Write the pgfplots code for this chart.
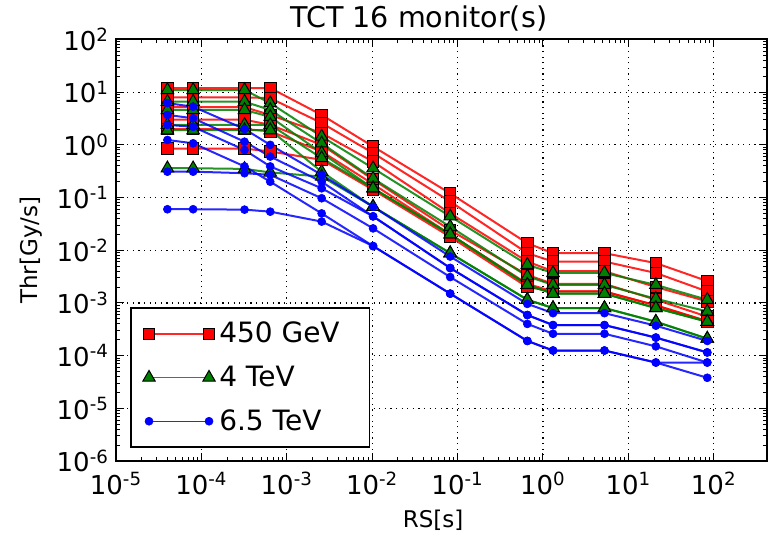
\documentclass[border=0pt]{standalone}
\usepackage{pgfplots}
\usepackage{pgfplotstable}
\pgfplotsset{compat=1.18}
\usepackage{fontspec}
\setmainfont{DejaVu Sans}

\definecolor{mplred}{RGB}{255,0,0}
\definecolor{mplgreen}{RGB}{0,128,0}
\definecolor{mplblue}{RGB}{0,0,255}

% Thresholds [Gy/s] versus running sum integration time [s]
\pgfplotstableread{
rs        a       b       c       d       e       f
4e-5      12      8       5.2     3.0     2.0     0.85
8e-5      12      8       5.2     3.0     2.0     0.85
3.2e-4    12      8       5.2     3.0     2.0     0.85
6.4e-4    12      7.7     3.7     2.4     1.8     0.75
2.56e-3   3.7     2.6     1.67    1.0     0.75    0.52
1.024e-2  0.93    0.7     0.48    0.22    0.18    0.14
8.192e-2  0.12    0.084   0.05    0.024   0.02    0.018
0.65536   0.0136  8.8e-3  6.1e-3  3.4e-3  2.3e-3  2.0e-3
1.31072   8.8e-3  6.1e-3  4.0e-3  2.3e-3  1.65e-3 1.65e-3
5.24288   8.8e-3  6.1e-3  4.0e-3  2.3e-3  1.65e-3 1.65e-3
20.97152  5.7e-3  3.7e-3  2.0e-3  1.15e-3 9.0e-4  9.0e-4
83.88608  2.6e-3  1.65e-3 1.07e-3 5.5e-4  4.5e-4  4.5e-4
}\lowE

\pgfplotstableread{
rs        a       b       c       d       e       f
4e-5      11      6.6     4.6     2.4     1.9     0.36
8e-5      11      6.6     4.6     2.4     1.9     0.36
3.2e-4    11      6.6     4.6     2.4     1.9     0.35
6.4e-4    6.2     4.6     3.4     2.4     1.9     0.30
2.56e-3   1.44    1.07    0.70    0.56    0.31    0.25
1.024e-2  0.36    0.23    0.15    0.15    0.067   0.067
8.192e-2  0.044   0.028   0.020   0.020   8.8e-3  8.8e-3
0.65536   5.3e-3  3.2e-3  2.2e-3  2.2e-3  1.15e-3 1.15e-3
1.31072   3.7e-3  2.2e-3  1.5e-3  1.5e-3  8.0e-4  8.0e-4
5.24288   3.7e-3  2.2e-3  1.5e-3  1.5e-3  8.0e-4  8.0e-4
20.97152  2.2e-3  1.2e-3  8.0e-4  8.0e-4  4.4e-4  4.4e-4
83.88608  1.15e-3 6.9e-4  4.4e-4  4.4e-4  2.1e-4  2.1e-4
}\midE

\pgfplotstableread{
rs        a       b       c       d       e       f
4e-5      6.2     3.7     2.4     1.24    0.31    0.060
8e-5      5.3     3.2     2.2     1.07    0.31    0.060
3.2e-4    2.0     1.15    0.80    0.39    0.29    0.059
6.4e-4    1.0     0.60    0.39    0.20    0.27    0.054
2.56e-3   0.27    0.20    0.15    0.050   0.097   0.035
1.024e-2  0.067   0.044   0.044   0.012   0.026   0.012
8.192e-2  7.6e-3  4.6e-3  4.6e-3  1.5e-3  3.1e-3  1.5e-3
0.65536   9.6e-4  5.9e-4  5.9e-4  1.9e-4  4.0e-4  1.9e-4
1.31072   6.4e-4  3.8e-4  3.8e-4  1.25e-4 2.6e-4  1.25e-4
5.24288   6.4e-4  3.8e-4  3.8e-4  1.25e-4 2.6e-4  1.25e-4
20.97152  3.7e-4  2.2e-4  2.2e-4  7.4e-5  1.5e-4  7.4e-5
83.88608  1.9e-4  1.15e-4 1.15e-4 3.8e-5  7.4e-5  7.4e-5
}\highE

\pgfplotsset{
  redser/.style={draw=mplred, draw opacity=0.85, line width=1pt, mark=square*, mark size=2.9pt,
    mark options={fill=mplred, draw=black, line width=0.5pt, draw opacity=1, solid}},
  greenser/.style={draw=mplgreen, draw opacity=0.85, line width=1pt, mark=triangle*, mark size=3.6pt,
    mark options={fill=mplgreen, draw=black, line width=0.5pt, draw opacity=1, solid}},
  blueser/.style={draw=mplblue, draw opacity=0.85, line width=1pt, mark=*, mark size=2pt,
    mark options={fill=mplblue, draw=mplblue, line width=0.3pt, draw opacity=1, solid}},
}

\begin{document}
\begin{tikzpicture}
\useasboundingbox (-58pt,-36pt) rectangle (326.5pt,230.5pt);
\begin{axis}[
  scale only axis,
  width=325.5pt, height=210.75pt,
  xmode=log, ymode=log,
  xmin=1e-5, xmax=420, ymin=1e-6, ymax=1e2,
  axis line style={line width=1pt},
  xtick={1e-5,1e-4,1e-3,1e-2,1e-1,1,10,100},
  xticklabels={10\textsuperscript{-5},10\textsuperscript{-4},10\textsuperscript{-3},10\textsuperscript{-2},10\textsuperscript{-1},10\textsuperscript{0},10\textsuperscript{1},10\textsuperscript{2}},
  ytick={1e-6,1e-5,1e-4,1e-3,1e-2,1e-1,1,10,100},
  yticklabels={10\textsuperscript{-6},10\textsuperscript{-5},10\textsuperscript{-4},10\textsuperscript{-3},10\textsuperscript{-2},10\textsuperscript{-1},10\textsuperscript{0},10\textsuperscript{1},10\textsuperscript{2}},
  ticklabel style={font=\fontsize{13}{15}\selectfont},
  xticklabel style={yshift=-2pt},
  major tick length=4pt, minor tick length=2pt,
  every tick/.style={black, line width=0.5pt},
  tick align=inside,
  xmajorgrids, ymajorgrids,
  major grid style={black, line width=0.6pt, dash pattern=on 0.6pt off 2.2pt},
  title={TCT 16 monitor(s)},
  title style={font=\fontsize{14.3}{17}\selectfont, at={(0.465,1)}, anchor=south, yshift=-5.5pt},
  xlabel={RS[s]}, ylabel={Thr[Gy/s]},
  label style={font=\fontsize{11.5}{13}\selectfont},
  xlabel style={at={(axis description cs:0.487,-0.14)}, anchor=center},
  ylabel style={at={(axis description cs:-0.13,0.5)}, anchor=center},
  legend style={at={(0.0215,0.031)}, anchor=south west, draw=black, line width=0.8pt,
    fill=white, font=\fontsize{14}{17}\selectfont, row sep=6pt, inner xsep=6pt, inner ysep=5pt,
    cells={anchor=west}},
  legend image code/.code={\draw[#1, line width=0.6pt] plot coordinates {(0pt,0pt) (30pt,0pt)};},
  legend cell align=left,
]
% 450 GeV
\addplot[redser] table[x=rs,y=a]{\lowE};
\addlegendentry{450 GeV\hspace*{7pt}}
\foreach \c in {b,c,d,e,f}{
  \addplot[redser, forget plot] table[x=rs,y=\c]{\lowE};
}
% 4 TeV
\addplot[greenser] table[x=rs,y=a]{\midE};
\addlegendentry{4 TeV}
\foreach \c in {b,c,d,e,f}{
  \addplot[greenser, forget plot] table[x=rs,y=\c]{\midE};
}
% 6.5 TeV
\addplot[blueser] table[x=rs,y=a]{\highE};
\addlegendentry{6.5 TeV}
\foreach \c in {b,c,d,e,f}{
  \addplot[blueser, forget plot] table[x=rs,y=\c]{\highE};
}
\end{axis}
\end{tikzpicture}
\end{document}
